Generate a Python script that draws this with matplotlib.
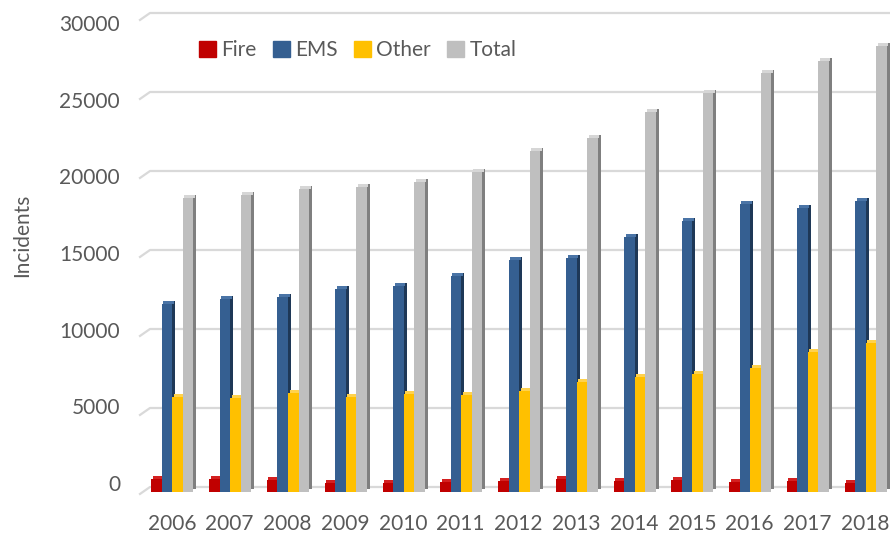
import matplotlib.pyplot as plt
import numpy as np
from matplotlib.patches import Patch
from matplotlib.transforms import ScaledTranslation, blended_transform_factory

# data
years = ["2006", "2007", "2008", "2009", "2010", "2011", "2012",
         "2013", "2014", "2015", "2016", "2017", "2018"]
fire = [820, 820, 760, 570, 570, 630, 700, 820, 700, 760, 630, 700, 570]
ems = [11900, 12200, 12340, 12850, 13040, 13670, 14680, 14810, 16140, 17150, 18230, 17970, 18420]
other = [6010, 5950, 6270, 6010, 6200, 6140, 6390, 6960, 7280, 7470, 7850, 8860, 9430]
total = [18600, 18800, 19180, 19300, 19620, 20250, 21580, 22400, 24050, 25250, 26500, 27280, 28230]

yticks = [0, 5000, 10000, 15000, 20000, 25000, 30000]

series = [("Fire", fire), ("EMS", ems), ("Other", other), ("Total", total)]
# front, side, top colours
colors = {
    "Fire": ("#C00000", "#7A0000", "#D42020"),
    "EMS": ("#355F91", "#1E3857", "#4A74A6"),
    "Other": ("#FFC000", "#B88A00", "#FFD24D"),
    "Total": ("#BFBFBF", "#7F7F7F", "#D6D6D6"),
}
text_color = "#595959"
grid_color = "#D9D9D9"

plt.rcParams['font.family'] = ['Lato', 'DejaVu Sans']
fs = 15

W, H = 890, 535
fig = plt.figure(figsize=(W / 100, H / 100), dpi=100)

left_px, right_px = 143, 894
ax = fig.add_axes([left_px / W, (H - 492) / H, (right_px - left_px) / W, 474 / H])
ax.set_xlim(-0.5, 12.5)
ax.set_ylim(0, 30000)
for s in ax.spines.values():
    s.set_visible(False)
ax.set_yticks([])
x = np.arange(len(years))
ax.set_xticks(x)
ax.set_xticklabels(years, fontsize=fs, color=text_color)
ax.tick_params(axis='x', length=0, pad=16)

# back wall gridlines (slightly raised), with short diagonal at left
back = blended_transform_factory(ax.transAxes, ax.transData) + ScaledTranslation(0, 0.05, fig.dpi_scale_trans)
for v in yticks:
    ax.plot([-0.004, 0.0093, 1.0], [v - 440, v, v], color=grid_color, lw=1.6,
            transform=back, clip_on=False, zorder=0)

w = 0.182
dx, dy = 0.03, 0.03  # depth offset in inches
top_h = 180
side_tr = ax.transData + ScaledTranslation(dx, dy, fig.dpi_scale_trans)
top_tr = ax.transData + ScaledTranslation(dx / 2, 0, fig.dpi_scale_trans)

for i, (name, vals) in enumerate(series):
    front, side, top = colors[name]
    xs = x + (i - 1.5) * w + 0.01
    ax.bar(xs, vals, width=w, color=side, transform=side_tr, zorder=2 + i, linewidth=0)
    ax.bar(xs, top_h, bottom=vals, width=w, color=top, transform=top_tr, zorder=2 + i, linewidth=0)
    ax.bar(xs, vals, width=w, color=front, zorder=2 + i, linewidth=0)

# y tick labels sit on their own scale
ax_lab = fig.add_axes([left_px / W, (H - 483) / H, 0.5, 460 / H], zorder=-1)
ax_lab.set_ylim(0, 30000)
ax_lab.set_yticks(yticks)
ax_lab.set_yticklabels([str(v) for v in yticks], fontsize=fs, color=text_color)
ax_lab.tick_params(axis='y', length=0, pad=16.5)
ax_lab.set_xticks([])
ax_lab.patch.set_visible(False)
for s in ax_lab.spines.values():
    s.set_visible(False)

fig.text(22 / W, 1 - 235 / H, "Incidents", rotation=90, ha='center', va='center',
         fontsize=fs, color=text_color)

handles = [Patch(color=colors[n][0], label=n) for n, _ in series]
leg = fig.legend(handles=handles, loc='center left', bbox_to_anchor=(191 / W, 1 - 50 / H),
                 ncol=4, frameon=False, fontsize=fs, handlelength=0.8, handleheight=0.8,
                 handletextpad=0.25, columnspacing=0.8, borderaxespad=0)
for t in leg.get_texts():
    t.set_color(text_color)

fig.savefig("out.png", dpi=100)
